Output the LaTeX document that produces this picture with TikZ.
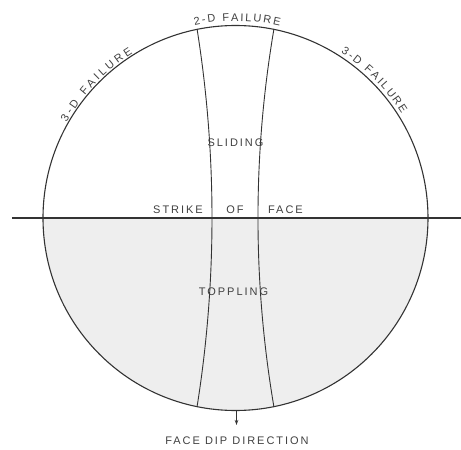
\documentclass[tikz,border=0pt]{standalone}
\usepackage{fontspec}
\usepackage{tikz}
\usetikzlibrary{arrows.meta,decorations.text}
\newfontfamily\lblfont[LetterSpace=18]{Liberation Sans}
\newfontfamily\arcfont{Liberation Sans}
\tikzset{
  net/.style = {draw=black!80, line width=1.1pt},
  strike/.style = {draw=black!80, line width=1.4pt},
  bound/.style = {draw=black!80, line width=0.9pt},
  lbl/.style = {font=\lblfont\fontsize{11}{13}\selectfont, text=black!75, inner sep=0pt, anchor=base},
  arclbl/.style = {decorate, decoration={text along path, text align=fit to path,
                   text={|\arcfont\fontsize{11}{13}\selectfont\color{black!75}|#1}}},
  arrow/.style = {draw=black!80, line width=0.8pt, -{Stealth[length=5pt,width=3.5pt]}}
}
\begin{document}
\begin{tikzpicture}[x=1pt, y=1pt]
            \useasboundingbox (-235.5,-232) rectangle (225.5,218);
            % lower half (toppling side)
            \fill[gray!13] (180:192.5) arc[start angle=180, end angle=360, radius=192.5] -- cycle;
            \draw[net] (0,0) circle[radius=192.5];
            \coordinate (west) at (-223.5,0);
            \coordinate (east) at (225.5,0);
            \draw[strike] (west) -- (east);
            % limits of 2-D failure
            \coordinate (lt) at (101.5:192.5);
            \coordinate (rt) at (78.5:192.5);
            \draw[bound] (lt) arc[start angle=9.03, end angle=-9.03, radius=1201];
            \draw[bound] (rt) arc[start angle=170.36, end angle=189.64, radius=1126.5];
            % labels
            \path[arclbl={2-D FAILURE}] (102:197) arc[start angle=102, end angle=77, radius=197];
            \path[arclbl={3-D FAILURE}] (150.5:194) arc[start angle=150.5, end angle=122, radius=194];
            \path[arclbl={3-D FAILURE}] (57.5:196) arc[start angle=57.5, end angle=32, radius=196];
            \node[lbl] (sliding) at (0,71) {SLIDING};
            \node[lbl] (strikelbl) at (-57.5,5) {STRIKE};
            \node[lbl] (oflbl) at (-0.5,5) {OF};
            \node[lbl] (facelbl) at (50,5) {FACE};
            \node[lbl] (toppling) at (-2,-77) {TOPPLING};
            \node[lbl] (dipdir) at (1.5,-226) {FACE DIP DIRECTION};
            \coordinate (dipfoot) at (1,-192.5);
            \coordinate (diptip) at (1,-207);
            \draw[arrow] (dipfoot) -- (diptip);
        \end{tikzpicture}
\end{document}
